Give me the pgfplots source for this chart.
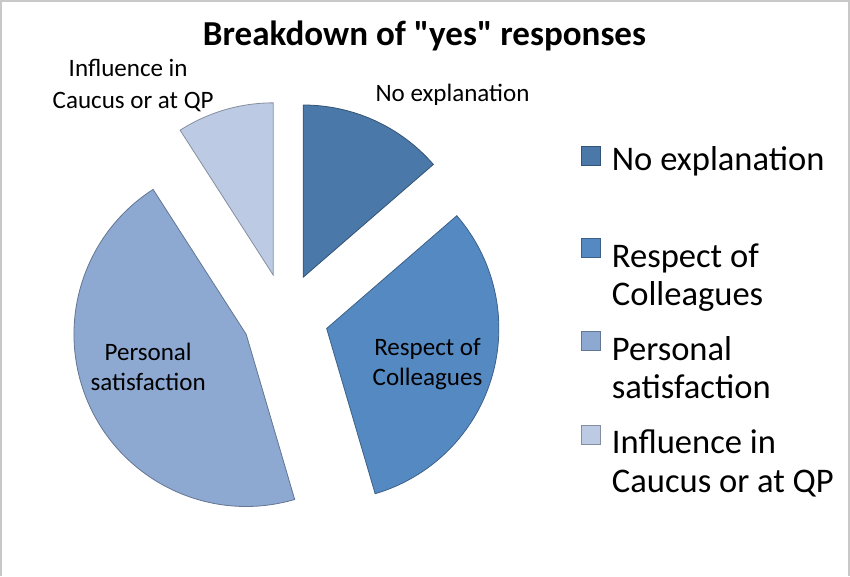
\documentclass[border=0pt]{standalone}
\usepackage{pgfplots}
\pgfplotsset{compat=1.18}
\usepackage{pgfplotstable}
\usepackage{fontspec}
\setmainfont{Carlito}
\newfontfamily\titlefont{Carlito}[Ligatures=TeXOff]

\definecolor{cNo}{HTML}{4A78A8}
\definecolor{cRe}{HTML}{5589C2}
\definecolor{cPe}{HTML}{8DA8D1}
\definecolor{cIn}{HTML}{BCCBE3}
\definecolor{frame}{HTML}{C8C8C8}

% counts of "yes" responses
\pgfplotstableread{
label value
NoExplanation 3
Respect 7
Personal 10
Influence 2
}\piedata

\def\pietotal{0}
\pgfplotsforeachungrouped \i in {0,...,3}{%
  \pgfplotstablegetelem{\i}{value}\of\piedata
  \pgfmathsetmacro\pietotal{\pietotal+\pgfplotsretval}%
}
\def\cum{90}
\pgfplotsforeachungrouped \i in {0,...,3}{%
  \pgfplotstablegetelem{\i}{value}\of\piedata
  \pgfmathsetmacro\sweep{360*\pgfplotsretval/\pietotal}%
  \expandafter\xdef\csname sA\i\endcsname{\cum}%
  \pgfmathsetmacro\cum{\cum-\sweep}%
  \expandafter\xdef\csname sB\i\endcsname{\cum}%
}

\newcommand\pieslice[2]{%
  \pgfmathsetmacro\pa{\csname sA#1\endcsname}%
  \pgfmathsetmacro\pb{\csname sB#1\endcsname}%
  \pgfmathsetmacro\pmid{(\pa+\pb)/2}%
  \pgfmathsetmacro\pcx{285+43*cos(\pmid)}%
  \pgfmathsetmacro\pcy{-316+43*sin(\pmid)}%
  \edef\tmp{\noexpand\filldraw[fill=#2,draw=#2!70!black,line width=0.8bp]
    (axis cs:\pcx,\pcy) -- ++(\pa:172bp) arc[start angle=\pa,end angle=\pb,radius=172bp] -- cycle;}%
  \tmp
}

\begin{document}
\begin{tikzpicture}
\begin{axis}[
  x=1bp, y=1bp,
  xmin=0, xmax=850, ymin=-575, ymax=0,
  hide axis, clip=false,
]
% frame
\draw[frame, line width=2bp] (axis cs:1,-575) -- (axis cs:1,-1) -- (axis cs:848,-1) -- (axis cs:848,-575);

\pieslice{0}{cNo}
\pieslice{1}{cRe}
\pieslice{2}{cPe}
\pieslice{3}{cIn}

% title
\node[anchor=base, font=\titlefont\fontsize{35bp}{42bp}\selectfont\bfseries] at (axis cs:424,-45) {Breakdown of "yes" responses};

% slice labels
\begin{scope}[every node/.style={anchor=base, font=\fontsize{25bp}{30bp}\selectfont}]
\node at (axis cs:452,-101) {No explanation};
\node at (axis cs:128,-76) {Influence in};
\node at (axis cs:133,-108) {Caucus or at QP};
\node at (axis cs:148,-360) {Personal};
\node at (axis cs:148,-390) {satisfaction};
\node at (axis cs:427,-355) {Respect of};
\node at (axis cs:427,-385) {Colleagues};
\end{scope}

% legend
\filldraw[fill=cNo, draw=cNo!70!black, line width=0.6bp] (axis cs:581,-146) rectangle (axis cs:600,-165);
\filldraw[fill=cRe, draw=cRe!70!black, line width=0.6bp] (axis cs:581,-238) rectangle (axis cs:600,-257);
\filldraw[fill=cPe, draw=cPe!70!black, line width=0.6bp] (axis cs:581,-331) rectangle (axis cs:600,-350);
\filldraw[fill=cIn, draw=cIn!70!black, line width=0.6bp] (axis cs:581,-425) rectangle (axis cs:600,-444);
\begin{scope}[every node/.style={anchor=base west, inner sep=0pt, font=\fontsize{34.5bp}{41bp}\selectfont}]
\node at (axis cs:611,-170) {No explanation};
\node at (axis cs:611,-267) {Respect of};
\node at (axis cs:611,-305) {Colleagues};
\node at (axis cs:611,-360) {Personal};
\node at (axis cs:611,-398) {satisfaction};
\node at (axis cs:611,-453) {Influence in};
\node at (axis cs:611,-492) {Caucus or at QP};
\end{scope}
\end{axis}
\end{tikzpicture}
\end{document}
